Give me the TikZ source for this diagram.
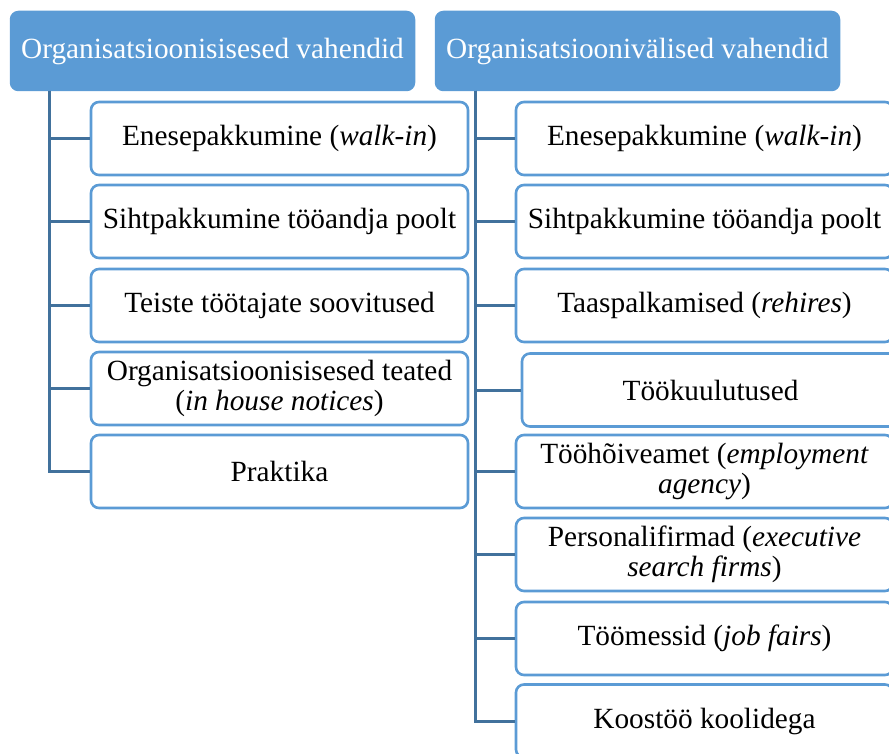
\documentclass[tikz,border=0pt]{standalone}
\usepackage{fontspec}
\setmainfont{Liberation Serif}
\definecolor{hdr}{HTML}{5B9BD5}
\definecolor{conn}{HTML}{41719C}
\begin{document}
\begin{tikzpicture}[x=1pt,y=-1pt,
  hbox/.style={draw=hdr, fill=hdr, rounded corners=8pt, line width=1.5pt, text=white,
    minimum width=404pt, minimum height=79pt, inner sep=0pt, font=\fontsize{29.3}{30}\selectfont},
  ibox/.style={draw=hdr, fill=white, rounded corners=8pt, line width=2.6pt,
    minimum width=377pt, minimum height=73pt, inner sep=0pt, align=center,
    font=\fontsize{29.3}{30}\selectfont},
  link/.style={draw=conn, line width=3pt}]
\useasboundingbox (0,0) rectangle (889,754);

\node[hbox] (h1) at (212.5,51) {Organisatsioonisisesed vahendid};
\node[hbox] (h2) at (637.5,51) {Organisatsioonivälised vahendid};

\coordinate (t1) at (49,91);
\coordinate (t2) at (475,91);

% left column
\node[ibox] (l1) at (279.5,138.5) {Enesepakkumine (\textit{walk-in})};
\node[ibox] (l2) at (279.5,221.5) {Sihtpakkumine tööandja poolt};
\node[ibox] (l3) at (279.5,305.5) {Teiste töötajate soovitused};
\node[ibox] (l4) at (279.5,388.5) {Organisatsioonisisesed teated\\(\textit{in house notices})};
\node[ibox] (l5) at (279.5,471.5) {Praktika};

% right column
\node[ibox] (r1) at (704.5,138.5) {Enesepakkumine (\textit{walk-in})};
\node[ibox] (r2) at (704.5,221.5) {Sihtpakkumine tööandja poolt};
\node[ibox] (r3) at (704.5,305.5) {Taaspalkamised (\textit{rehires})};
\node[ibox] (r4) at (710.5,390) {Töökuulutused};
\node[ibox] (r5) at (704.5,471.5) {Tööhõiveamet (\textit{employment}\\\textit{agency})};
\node[ibox] (r6) at (704.5,554.5) {Personalifirmad (\textit{executive}\\\textit{search firms})};
\node[ibox] (r7) at (704.5,638.5) {Töömessid (\textit{job fairs})};
\node[ibox] (r8) at (704.5,721) {Koostöö koolidega};

\foreach \n in {l1,l2,l3,l4,l5} \draw[link] (t1) |- (\n.west);
\foreach \n in {r1,r2,r3,r4,r5,r6,r7,r8} \draw[link] (t2) |- (\n.west);
\end{tikzpicture}
\end{document}
